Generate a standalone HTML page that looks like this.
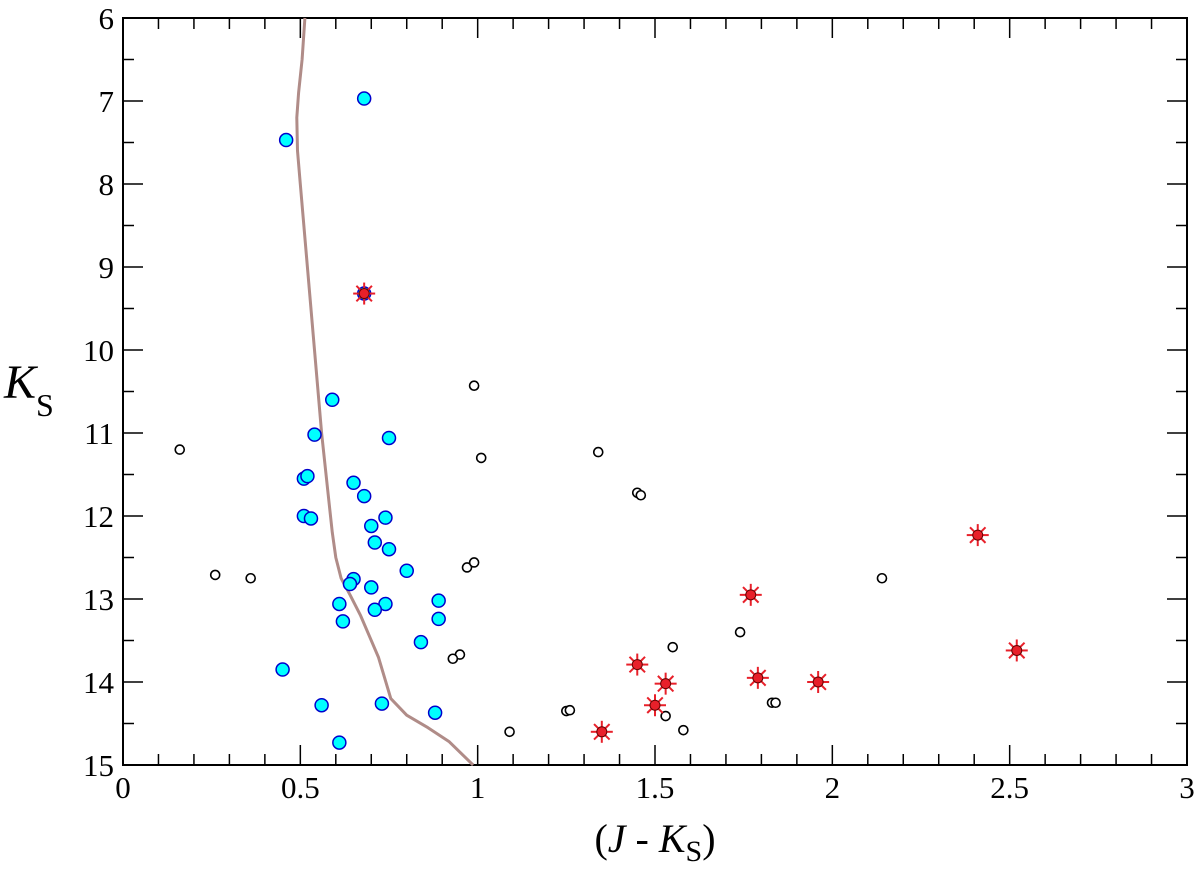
<!DOCTYPE html>
<html><head><meta charset="utf-8"><style>
body{margin:0;background:#fff}
text,tspan{font-family:"Liberation Serif","Times New Roman",serif !important}
</style></head><body>
<svg id="chart" width="1200" height="864" xmlns="http://www.w3.org/2000/svg" style="font-family:'Liberation Serif',serif">
<g id="plot"></g>
</svg>
<script>
const xTicks=[0,0.5,1,1.5,2,2.5,3];
const xTickLabels=["0","0.5","1","1.5","2","2.5","3"];
const yTicks=[6,7,8,9,10,11,12,13,14,15];
const cyanX=[0.68,0.46,0.68,0.59,0.54,0.75,0.51,0.52,0.65,0.68,0.74,0.51,0.53,0.70,0.71,0.75,0.80,0.65,0.64,0.70,0.89,0.74,0.61,0.71,0.89,0.62,0.84,0.45,0.56,0.73,0.88,0.61];
const cyanY=[6.97,7.47,9.32,10.6,11.02,11.06,11.55,11.52,11.6,11.76,12.02,12.0,12.03,12.12,12.32,12.4,12.66,12.76,12.82,12.86,13.02,13.06,13.06,13.13,13.24,13.27,13.52,13.85,14.28,14.26,14.37,14.73];
const openX=[0.16,0.26,0.36,0.99,1.01,1.34,1.45,1.46,0.97,0.99,0.95,0.93,1.55,1.74,2.14,1.25,1.26,1.53,1.58,1.09,1.83,1.84];
const openY=[11.2,12.71,12.75,10.43,11.3,11.23,11.72,11.75,12.62,12.56,13.67,13.72,13.58,13.4,12.75,14.35,14.34,14.41,14.58,14.6,14.25,14.25];
const starX=[0.68,1.35,1.45,1.50,1.53,1.77,1.79,1.96,2.41,2.52];
const starY=[9.32,14.6,13.79,14.28,14.02,12.95,13.95,14.0,12.23,13.62];
const isoX=[0.513,0.505,0.495,0.49,0.492,0.50,0.52,0.54,0.56,0.58,0.59,0.60,0.615,0.64,0.67,0.72,0.755,0.80,0.86,0.92,0.987];
const isoY=[6,6.5,6.9,7.2,7.6,8,9,10,11,11.8,12.2,12.5,12.75,12.95,13.2,13.7,14.2,14.4,14.55,14.72,15];

const L=123,R=1187,T=18,B=765;
const sx=v=>L+(v-0)/3*(R-L);
const sy=v=>T+(v-6)/9*(B-T);
const NS="http://www.w3.org/2000/svg";
const g=document.getElementById('plot');
function mk(tag,attrs,parent){const e=document.createElementNS(NS,tag);for(const k in attrs)e.setAttribute(k,attrs[k]);(parent||g).appendChild(e);return e;}
const FF="font-family:'Liberation Serif','Times New Roman',serif";

const frame=mk('rect',{x:L,y:T,width:R-L,height:B-T,fill:'none',stroke:'#000','stroke-width':2});


for(let i=0;i<=30;i++){const v=i/10;const major=i%5===0;const len=major?20:11;const x=sx(v);
 const t=mk('line',{x1:x,y1:B,x2:x,y2:B-len,stroke:'#000','stroke-width':1.5});
 
 
 const t2=mk('line',{x1:x,y1:T,x2:x,y2:T+len,stroke:'#000','stroke-width':1.5});
 
 }
xTicks.forEach((v,i)=>{const t=mk('text',{x:sx(v),y:B+33,'text-anchor':'middle','font-size':31,style:FF});t.textContent=xTickLabels[i];
 
 });
for(let i=0;i<=18;i++){const v=6+i/2;const major=i%2===0;const len=major?20:11;const y=sy(v);
 const t=mk('line',{x1:L,y1:y,x2:L+len,y2:y,stroke:'#000','stroke-width':1.5});
 
 
 const t2=mk('line',{x1:R,y1:y,x2:R-len,y2:y,stroke:'#000','stroke-width':1.5});
 
 }
yTicks.forEach(v=>{const t=mk('text',{x:L-9,y:sy(v)+11,'text-anchor':'end','font-size':31,style:FF});t.textContent=String(v);
 
 });
const xt=mk('text',{x:655,y:852,'text-anchor':'middle','font-size':40,style:FF});
xt.innerHTML='(<tspan font-style="italic">J</tspan> - <tspan font-style="italic">K</tspan><tspan font-size="30" dy="9">S</tspan><tspan dy="-9">)</tspan>';


const yt=mk('text',{x:4,y:398,'font-size':48,style:FF});
yt.innerHTML='<tspan font-style="italic">K</tspan><tspan font-size="32" dy="18">S</tspan>';


const d=isoX.map((x,i)=>(i?'L':'M')+sx(x).toFixed(1)+','+sy(isoY[i]).toFixed(1)).join(' ');
const iso=mk('path',{d:d,fill:'none',stroke:'#b08c88','stroke-width':3,'stroke-linejoin':'round'});


openX.forEach((x,i)=>{const c=mk('circle',{cx:sx(x),cy:sy(openY[i]),r:4.5,fill:'#fff',stroke:'#000','stroke-width':1.6});
 
 });
cyanX.forEach((x,i)=>{const c=mk('circle',{cx:sx(x),cy:sy(cyanY[i]),r:6.5,fill:'#00ffff',stroke:'#0000cc','stroke-width':1.5});
 
 });
starX.forEach((x,i)=>{const cx=sx(x),cy=sy(starY[i]);const s=mk('g',{});
 
 
 for(let k=0;k<8;k++){const a=k*Math.PI/4;mk('line',{x1:cx,y1:cy,x2:cx+11*Math.cos(a),y2:cy+11*Math.sin(a),stroke:'#e8202a','stroke-width':2},s);}
 mk('circle',{cx:cx,cy:cy,r:5,fill:'#e8202a',stroke:'#600','stroke-width':1},s);});
</script>
</body></html>
